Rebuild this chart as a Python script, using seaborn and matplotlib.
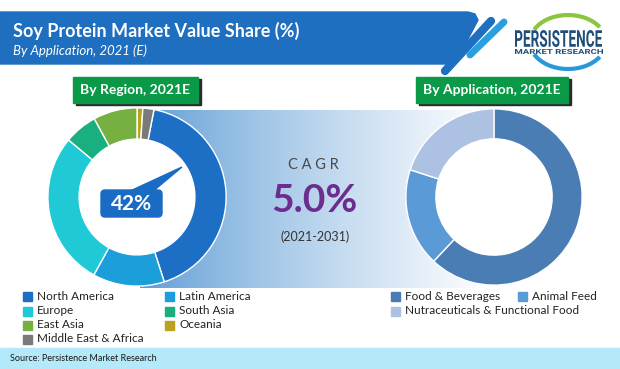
import matplotlib
matplotlib.use("Agg")
import numpy as np
import matplotlib.pyplot as plt
import matplotlib.transforms as mtransforms
from matplotlib.patches import Rectangle, FancyBboxPatch, Circle, Polygon, Arc, PathPatch
from matplotlib.textpath import TextPath
from matplotlib.font_manager import FontProperties
from matplotlib.colors import to_rgb
import seaborn as sns

# ── data ─────────────────────────────────────────────────────────────────────
REGIONS = ["North America", "Latin America", "Europe", "South Asia",
           "East Asia", "Oceania", "Middle East & Africa"]
REGION_SHARE = [42, 13, 28, 6, 8, 1, 2]
REGION_COLORS = ["#1d6fc6", "#1b9ed9", "#1fcad6", "#1aaf7e",
                 "#76b041", "#b8a21f", "#7a7a7a"]

APPLICATIONS = ["Food & Beverages", "Animal Feed", "Nutraceuticals & Functional Food"]
APP_SHARE = [62, 18, 20]
APP_COLORS = ["#4a7db4", "#5a9ad6", "#adc2e3"]

TITLE = "Soy Protein Market Value Share (%)"
SUBTITLE = "By Application, 2021 (E)"
CAGR = "5.0%"
CAGR_PERIOD = "(2021-2031)"
HIGHLIGHT = "42%"

W, H = 620, 369
FONT = "Lato"

sns.set_theme(style="white")
plt.rcParams["font.family"] = [FONT, "DejaVu Sans"]

fig = plt.figure(figsize=(W / 100, H / 100), dpi=100)
fig.patch.set_facecolor("white")

# background canvas in pixel coordinates (y downwards)
bg = fig.add_axes([0, 0, 1, 1], zorder=0)
bg.set_xlim(0, W)
bg.set_ylim(H, 0)
bg.axis("off")

# gradient band behind the donuts
x0, x1, y0, y1 = 140, 490, 110, 288
c0 = np.array(to_rgb("#5b9bd5"))
frac = np.linspace(0, 1, 300) ** 0.8
grad = c0[None, :] * (1 - frac[:, None]) + frac[:, None]
bg.imshow(grad[None, :, :], extent=[x0, x1, y1, y0], aspect="auto", zorder=1)

# title banner
banner = Polygon([(-5, 12), (468, 12), (475, 14), (478, 20), (455, 64), (-5, 64)],
                 closed=True, color="#1e6fc0", zorder=2)
bg.add_patch(banner)
bg.plot([445, 491], [71, 21], color="#1e6fc0", lw=6, solid_capstyle="round", zorder=2)
bg.plot([470, 504], [55, 22], color="#2a9fe0", lw=5, solid_capstyle="round", zorder=2)
bg.text(13, 31, TITLE, color="white", fontsize=13, fontweight="bold",
        va="center", ha="left", zorder=3)
bg.text(13, 51, SUBTITLE, color="white", fontsize=9.5, fontstyle="italic",
        va="center", ha="left", zorder=3)

# logo
bg.add_patch(Arc((568, 42), 76, 54, theta1=200, theta2=335, color="#8cc63f", lw=3, zorder=2))
bg.add_patch(Arc((568, 42), 76, 54, theta1=25, theta2=160, color="#2a98d8", lw=3, zorder=2))
for txt, (lx, ly, lw_, lh, col) in {
        "PERSISTENCE": (515, 47, 87, 17, "#1f4e79"),
        "MARKET RESEARCH": (515, 54, 88, 5, "#1f4e79")}.items():
    tp = TextPath((0, 0), txt, size=10, prop=FontProperties(family="Roboto", weight="bold"))
    bb = tp.get_extents()
    tr = (mtransforms.Affine2D().translate(-bb.x0, -bb.y0)
          .scale(lw_ / bb.width, -lh / bb.height).translate(lx, ly))
    bg.add_patch(PathPatch(tr.transform_path(tp), color=col, lw=0, zorder=3))


# green section labels with shadow
def section_label(x, y, w, h, text):
    bg.add_patch(Rectangle((x + 3, y + 2), w, h, color="#2b2b2b", zorder=3))
    bg.add_patch(Rectangle((x, y), w, h, color="#0a9a47", zorder=4))
    bg.text(x + w / 2, y + h / 2 + 0.5, text, color="white", fontsize=10,
            fontweight="bold", ha="center", va="center", zorder=5)


section_label(73, 77, 125, 26, "By Region, 2021E")
section_label(416, 77, 152, 26, "By Application, 2021E")

# CAGR block
bg.text(313, 165, "C A G R", color="#4a4a4a", fontsize=10.5, fontweight="normal",
        ha="center", va="center", zorder=3)
bg.text(314, 201, CAGR, color="#6b2d8e", fontsize=28, fontweight="bold",
        ha="center", va="center", zorder=3)
bg.text(315, 237, CAGR_PERIOD, color="#333333", fontsize=9,
        ha="center", va="center", zorder=3)

# footer
bg.add_patch(Rectangle((0, 348), W, 21, color="#b3e9f8", zorder=2))
bg.text(10, 358.5, "Source: Persistence Market Research", color="#1a1a1a",
        fontsize=6.5, ha="left", va="center", zorder=3)


# legends (drawn as squares + labels)
def legend_item(x, y, color, label):
    bg.add_patch(Rectangle((x, y - 4.5), 9, 9, color=color, zorder=3))
    bg.text(x + 14, y, label, fontsize=8.5, color="#222222",
            ha="left", va="center", zorder=3)


rows = [296, 311, 325, 339]
left_pos = [(23, rows[0]), (165, rows[0]), (23, rows[1]), (165, rows[1]),
            (23, rows[2]), (165, rows[2]), (23, rows[3])]
for (lx, ly), col, lab in zip(left_pos, REGION_COLORS, REGIONS):
    legend_item(lx, ly, col, lab)

right_pos = [(391, rows[0]), (518, rows[0]), (391, rows[1])]
for (lx, ly), col, lab in zip(right_pos, APP_COLORS, APPLICATIONS):
    legend_item(lx, ly, col, lab)


# donuts
def donut(cx, cy, r, values, colors, start, hole):
    ax = fig.add_axes([(cx - r) / W, (H - cy - r) / H, 2 * r / W, 2 * r / H], zorder=1)
    ax.pie(values, colors=sns.color_palette(colors), startangle=start,
           counterclock=False, radius=1,
           wedgeprops=dict(width=1 - hole, edgecolor="white", linewidth=1))
    ax.add_patch(Circle((0, 0), hole, color="white", zorder=0))
    ax.set_xlim(-1.01, 1.01)
    ax.set_ylim(-1.01, 1.01)
    ax.set_facecolor("none")
    ax.axis("off")
    return ax


donut(137, 197, 90, REGION_SHARE, REGION_COLORS, 79, 0.65)
donut(494, 197, 89, APP_SHARE, APP_COLORS, 90, 0.66)

# callout on top
top = fig.add_axes([0, 0, 1, 1], zorder=2)
top.set_xlim(0, W)
top.set_ylim(H, 0)
top.set_facecolor("none")
top.axis("off")
top.add_patch(Polygon([(128, 192), (182, 167), (152, 192)], closed=True,
                      color="#1a6bc4", zorder=3))
top.add_patch(FancyBboxPatch((101, 190), 61, 27, boxstyle="round,pad=0,rounding_size=4",
                             color="#1a6bc4", zorder=4))
top.text(131.5, 204, HIGHLIGHT, color="white", fontsize=15, fontweight="bold",
         ha="center", va="center", zorder=5)

fig.savefig("out.png", dpi=100)
